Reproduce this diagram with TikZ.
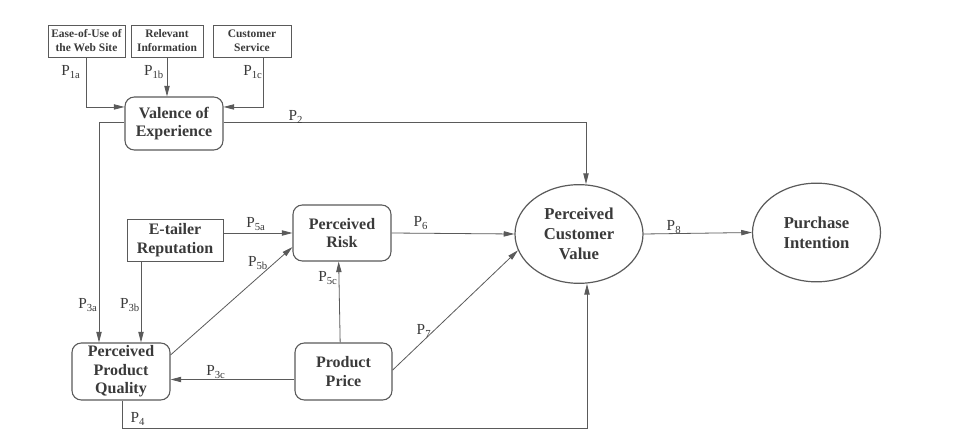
\documentclass[tikz,border=0pt]{standalone}
\usepackage{fontspec}
\setmainfont{Liberation Serif}
\usetikzlibrary{arrows.meta,shapes.geometric,calc}
\definecolor{ink}{HTML}{3A3A3A}
\definecolor{wire}{HTML}{5A5A5A}
\begin{document}
\begin{tikzpicture}[x=0.75pt,y=-0.75pt,
  every node/.style={text=ink, inner sep=0pt, align=center},
  smallbox/.style={draw=wire, line width=0.7pt, minimum height=24pt,
    font=\fontsize{8.6}{10.5}\selectfont\bfseries},
  sqbox/.style={draw=wire, line width=0.7pt, minimum width=72pt, minimum height=31.5pt,
    font=\fontsize{12}{14}\selectfont\bfseries},
  rbox/.style={draw=wire, line width=0.8pt, rounded corners=7pt, minimum width=73.5pt,
    minimum height=41pt, font=\fontsize{12}{14}\selectfont\bfseries},
  oval/.style={ellipse, draw=wire, line width=0.9pt, minimum width=96pt, minimum height=74pt,
    font=\fontsize{12.5}{15}\selectfont\bfseries},
  arr/.style={draw=wire, line width=0.6pt, -{Triangle[length=8pt,width=4pt]}},
  plabel/.style={font=\fontsize{11.5}{13}\selectfont, text=ink}]

% page
\fill[white] (0,0) rectangle (965,432);
\useasboundingbox (0,0) rectangle (965,432);

% antecedent boxes
\node[smallbox, minimum width=57.75pt] (ease) at (86.5,41) {Ease-of-Use of\\the Web Site};
\node[smallbox, minimum width=54pt] (relinfo) at (167,41) {Relevant\\Information};
\node[smallbox, minimum width=58.5pt] (custserv) at (252,41) {Customer\\Service};

% constructs
\node[rbox, minimum height=39.75pt] (valence) at (174,123.5) {Valence of\\Experience};
\node[sqbox] (etailer) at (175,240) {E-tailer\\Reputation};
\node[rbox, minimum height=42pt] (risk) at (342,233) {Perceived\\Risk};
\node[rbox, minimum height=42.75pt] (ppq) at (121,371.5) {Perceived\\Product\\Quality};
\node[rbox, minimum height=42.75pt, minimum width=72.75pt] (price) at (343.5,371.5) {Product\\Price};
\node[oval] (pcv) at (579,234) {Perceived\\Customer\\Value};
\node[oval] (pint) at (816.5,232.5) {Purchase\\Intention};

% routing coordinates
\coordinate (c1c) at (263,0);
\coordinate (c2) at (586,0);
\coordinate (c3a) at (99,0);
\coordinate (c3b) at (141,0);
\coordinate (c4) at (587,428);

% paths P1
\draw[arr] (ease.south) |- ([yshift=12.4pt]valence.west);
\draw[arr] (relinfo.south) -- (relinfo.south |- valence.north);
\draw[arr] (custserv.south -| c1c) |- ([yshift=12.4pt]valence.east);
% P2
\draw[arr] ([yshift=1pt]valence.east) -| (c2 |- pcv.north);
% P3
\draw[arr] ([yshift=1pt]valence.west) -| (c3a |- ppq.north);
\draw[arr] (etailer.south -| c3b) -- (ppq.north -| c3b);
\draw[arr] ([yshift=-6pt]price.west) -- ([yshift=-6pt]ppq.east);
% P4
\draw[arr] ([xshift=1pt]ppq.south) |- (c4) -- (c4 |- pcv.south);
% P5
\draw[arr] (etailer.east |- risk.west) -- (risk.west);
\draw[arr] ([yshift=12.4pt]ppq.east) -- ([yshift=-10.5pt]risk.west);
\draw[arr] ([xshift=-2.5pt]price.north) -- ([xshift=-2.5pt]risk.south);
% P6, P7, P8
\draw[arr] (risk.east) -- (pcv.west);
\draw[arr] ([yshift=1pt]price.east) -- (pcv.195);
\draw[arr] (pcv.east) -- (pint.west);

% path labels
\node[plabel] (l1a) at (71,72) {P\textsubscript{1a}};
\node[plabel] (l1b) at (154,72) {P\textsubscript{1b}};
\node[plabel] (l1c) at (253,72) {P\textsubscript{1c}};
\node[plabel] (l2) at (296,117) {P\textsubscript{2}};
\node[plabel] (l3a) at (88,305) {P\textsubscript{3a}};
\node[plabel] (l3b) at (130,305) {P\textsubscript{3b}};
\node[plabel] (l3c) at (216,372) {P\textsubscript{3c}};
\node[plabel] (l4) at (138,419) {P\textsubscript{4}};
\node[plabel] (l5a) at (256,224) {P\textsubscript{5a}};
\node[plabel] (l5b) at (258,263) {P\textsubscript{5b}};
\node[plabel] (l5c) at (328,278) {P\textsubscript{5c}};
\node[plabel] (l6) at (421,223) {P\textsubscript{6}};
\node[plabel] (l7) at (424,331) {P\textsubscript{7}};
\node[plabel] (l8) at (674,227) {P\textsubscript{8}};
\end{tikzpicture}
\end{document}
